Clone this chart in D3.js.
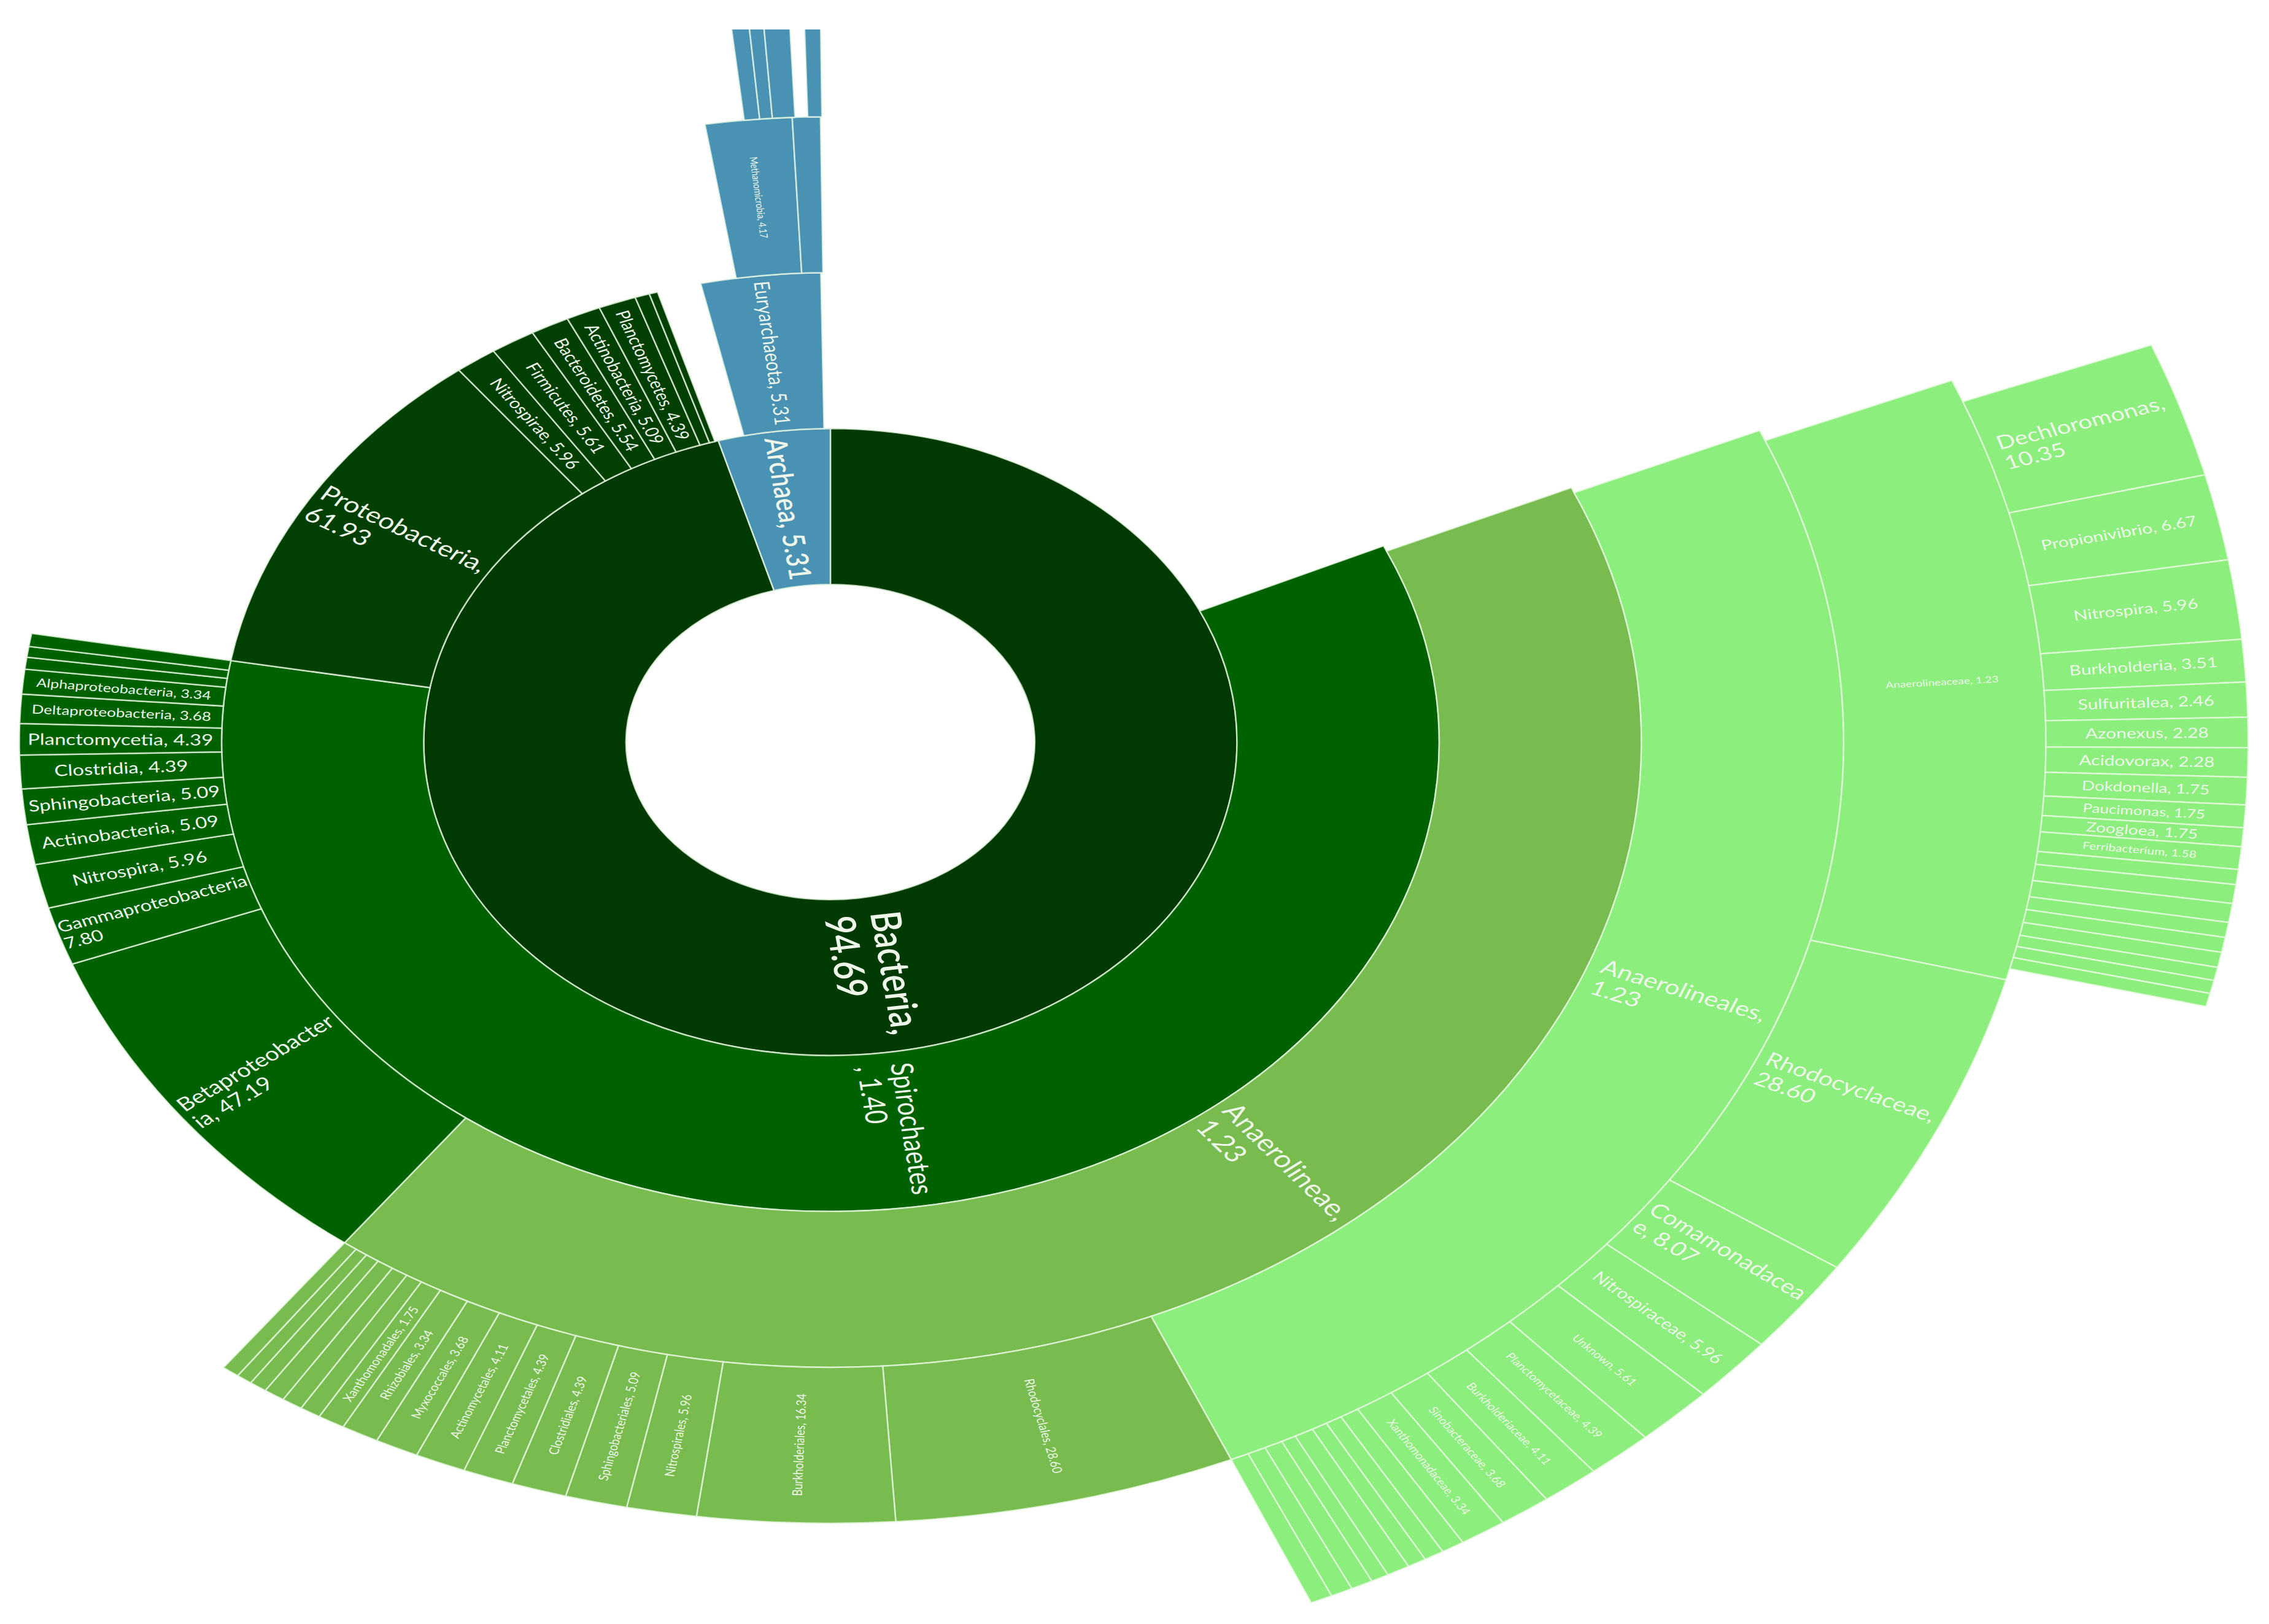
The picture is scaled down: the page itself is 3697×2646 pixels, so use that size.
<!DOCTYPE html>
<html><head><meta charset="utf-8">
<script src="https://cdn.jsdelivr.net/npm/d3@7"></script>
<style>body{margin:0;background:#fff}svg{display:block}</style>
</head><body>
<svg id="chart" width="3697" height="2646"></svg>
<script>
// ---------- DATA (angular spans in degrees; "" = empty gap) ----------
const ring1Groups = ["bacteria", "archaea"];
const ring1Spans  = [344, 16];
const ring1Labels = [["Bacteria,", "94.69"], ["Archaea, 5.31"]];

const ring2Groups = ["", "spiro", "proteo", "proteo", "proteo", "proteo", "proteo", "proteo", "proteo", "proteo", "", "archaea", ""];
const ring2Spans  = [65.3, 214.7, 42.4, 4.0, 4.3, 3.7, 3.3, 3.6, 1.4, 0.8, 4.2, 11.4, 0.9];
const ring2Labels = [null, ["Spirochaetes", ", 1.40"], ["Proteobacteria,", "61.93"], ["Nitrospirae, 5.96"], ["Firmicutes, 5.61"],
  ["Bacteroidetes, 5.54"], ["Actinobacteria, 5.09"], ["Planctomycetes, 4.39"], null, null, null, ["Euryarchaeota, 5.31"], null];

const ring3Groups = ["", "anaero", "spiro", "spiro", "spiro", "spiro", "spiro", "spiro", "spiro", "spiro", "spiro", "spiro", "spiro", "spiro", "", "archaea", "archaea", ""];
const ring3Spans  = [66, 150.8, 32.4, 5.4, 4.1, 3.7, 3.3, 3.1, 2.9, 2.7, 2.3, 1.1, 1.0, 1.2, 71.1, 6.2, 2.0, 0.7];
const ring3Labels = [null, ["Anaerolineae,", "1.23"], ["Betaproteobacter", "ia, 47.19"], ["Gammaproteobacteria", "7.80"],
  ["Nitrospira, 5.96"], ["Actinobacteria, 5.09"], ["Sphingobacteria, 5.09"], ["Clostridia, 4.39"], ["Planctomycetia, 4.39"],
  ["Deltaproteobacteria, 3.68"], ["Alphaproteobacteria, 3.34"], null, null, null, null, ["Methanomicrobia, 4.17"], null, null];

const ring4Groups = ["", "light", "anaero", "anaero", "anaero", "anaero", "anaero", "anaero", "anaero", "anaero", "anaero", "anaero",
  "anaero", "anaero", "anaero", "anaero", "anaero", "anaero", "", "archaea", "archaea", "archaea", "", "archaea", ""];
const ring4Spans  = [66.5, 90.2, 19.6, 11.3, 4.0, 3.55, 3.15, 2.9, 2.9, 2.5, 2.15, 1.55, 1.2, 1.2, 1.2, 1.0, 0.9, 1.0, 137.1, 1.1, 0.9, 1.6, 0.9, 1.0, 0.6];
const ring4Labels = [null, ["Anaerolineales,", "1.23"], ["Rhodocyclales, 28.60"], ["Burkholderiales, 16.34"], ["Nitrospirales, 5.96"],
  ["Sphingobacteriales, 5.09"], ["Clostridiales, 4.39"], ["Planctomycetales, 4.39"], ["Actinomycetales, 4.11"], ["Myxococcales, 3.68"],
  ["Rhizobiales, 3.34"], ["Xanthomonadales, 1.75"], null, null, null, null, null, null, null, null, null, null, null, null, null];

const ring5Groups = ["", "light", "light", "light", "light", "light", "light", "light", "light", "light",
  "light", "light", "light", "light", "light", "light", "light", "light", ""];
const ring5Spans  = [67.3, 37.4, 19.4, 5.9, 4.1, 3.8, 3.2, 2.8, 2.5, 2.25, 1.1, 0.95, 0.9, 1.1, 0.85, 1.05, 1.05, 1.05, 203.3];
const ring5Labels = [null, ["Anaerolineaceae, 1.23"], ["Rhodocyclaceae,", "28.60"], ["Comamonadacea", "e, 8.07"], ["Nitrospiraceae, 5.96"],
  ["Unknown, 5.61"], ["Planctomycetaceae, 4.39"], ["Burkholderiaceae, 4.11"], ["Sinobacteraceae, 3.68"], ["Xanthomonadaceae, 3.34"],
  null, null, null, null, null, null, null, null, null];

const ring6Groups = ["", "light", "light", "light", "light", "light", "light", "light", "light", "light", "light", "light",
  "light", "light", "light", "light", "light", "light", "light", "light", "light", ""];
const ring6Spans  = [68.7, 7.15, 4.55, 4.2, 2.25, 1.85, 1.6, 1.55, 1.45, 1.2, 1.0, 1.2, 0.8, 1.0, 1.0, 0.8, 0.8, 0.8, 0.7, 0.7, 0.7, 256];
const ring6Labels = [null, ["Dechloromonas,", "10.35"], ["Propionivibrio, 6.67"], ["Nitrospira, 5.96"], ["Burkholderia, 3.51"],
  ["Sulfuritalea, 2.46"], ["Azonexus, 2.28"], ["Acidovorax, 2.28"], ["Dokdonella, 1.75"], ["Paucimonas, 1.75"], ["Zoogloea, 1.75"],
  ["Ferribacterium, 1.58"], null, null, null, null, null, null, null, null, null, null];

// ---------- STYLE ----------
const colors = {bacteria: "#013902", archaea: "#4a92b3", proteo: "#023f02", spiro: "#006100", anaero: "#78bb4f", light: "#8cee7c"};
const ringFont = [0, 52, 31, 33, 22, 21, 30];
const fontOverride = {
  "Bacteria,": 68, "Archaea, 5.31": 50, "Spirochaetes": 50, "Proteobacteria,": 46, "Euryarchaeota, 5.31": 35,
  "Anaerolineae,": 50, "Betaproteobacter": 40, "Gammaproteobacteria": 33, "Methanomicrobia, 4.17": 17,
  "Deltaproteobacteria, 3.68": 26, "Alphaproteobacteria, 3.34": 25,
  "Anaerolineales,": 43, "Rhodocyclaceae,": 41, "Comamonadacea": 41, "Nitrospiraceae, 5.96": 31,
  "Dechloromonas,": 40, "Dokdonella, 1.75": 28, "Paucimonas, 1.75": 26, "Zoogloea, 1.75": 28,
  "Ferribacterium, 1.58": 21, "Anaerolineaceae, 1.23": 19
};

const W = 3697, H = 2646, cx = 1353, cy = 1209, ky = 0.771;
const ringR = d3.range(7).map(k => 333 + 329.5 * k);
const angle = d3.scaleLinear().domain([0, 360]).range([0, 2 * Math.PI]);

const rings = [
  {groups: ring1Groups, spans: ring1Spans, labels: ring1Labels},
  {groups: ring2Groups, spans: ring2Spans, labels: ring2Labels},
  {groups: ring3Groups, spans: ring3Spans, labels: ring3Labels},
  {groups: ring4Groups, spans: ring4Spans, labels: ring4Labels},
  {groups: ring5Groups, spans: ring5Spans, labels: ring5Labels},
  {groups: ring6Groups, spans: ring6Spans, labels: ring6Labels}
];

const svg = d3.select("#chart");
svg.append("defs").append("clipPath").attr("id", "clip")
  .append("rect").attr("x", 0).attr("y", 48).attr("width", W).attr("height", H - 48);
const g = svg.append("g").attr("clip-path", "url(#clip)")
  .append("g").attr("transform", `translate(${cx},${cy}) scale(1,${ky})`);

const segs = [];
rings.forEach((ring, i) => {
  const ends = Array.from(d3.cumsum(ring.spans));
  ring.spans.forEach((s, j) => {
    const a1 = ends[j], a0 = a1 - s;
    if (!ring.groups[j]) return;
    segs.push({ring: i, a0, a1, group: ring.groups[j], label: ring.labels[j], r0: ringR[i], r1: ringR[i + 1]});
  });
});

const arc = d3.arc()
  .innerRadius(d => d.r0).outerRadius(d => d.r1)
  .startAngle(d => angle(d.a0)).endAngle(d => angle(d.a1));

g.selectAll("path.seg").data(segs).join("path")
  .attr("class", "seg")
  .attr("d", arc)
  .attr("fill", d => colors[d.group])
  .attr("stroke", "rgba(235,250,230,0.75)")
  .attr("stroke-width", 2.5)
  .attr("vector-effect", "non-scaling-stroke");

const labelled = segs.filter(d => d.label);
const lg = g.selectAll("g.lab").data(labelled).join("g").attr("class", "lab")
  .attr("transform", d => {
    const m = (d.a0 + d.a1) / 2, r = (d.r0 + d.r1) / 2;
    const x = r * Math.sin(angle(m)), y = -r * Math.cos(angle(m));
    const rot = m < 180 ? m - 90 : m - 270;
    return `translate(${x},${y}) rotate(${rot})`;
  });

lg.each(function(d) {
  const el = d3.select(this);
  const fs = fontOverride[d.label[0]] || ringFont[d.ring + 1];
  const lh = fs * 1.1;
  const n = d.label.length;
  const texts = d.label.map((t, k) => el.append("text")
    .attr("y", (k - (n - 1) / 2) * lh)
    .attr("dy", "0.35em")
    .attr("font-family", "Lato, 'Open Sans', sans-serif")
    .attr("font-size", fs)
    .attr("font-weight", d.ring === 0 ? 600 : 400)
    .attr("fill", "#eef6ea")
    .text(t));
  if (n === 1) {
    texts[0].attr("text-anchor", "middle");
  } else {
    const w = d3.max(texts, t => t.node().getComputedTextLength());
    texts.forEach(t => t.attr("x", -w / 2));
  }
});
</script>
</body></html>
